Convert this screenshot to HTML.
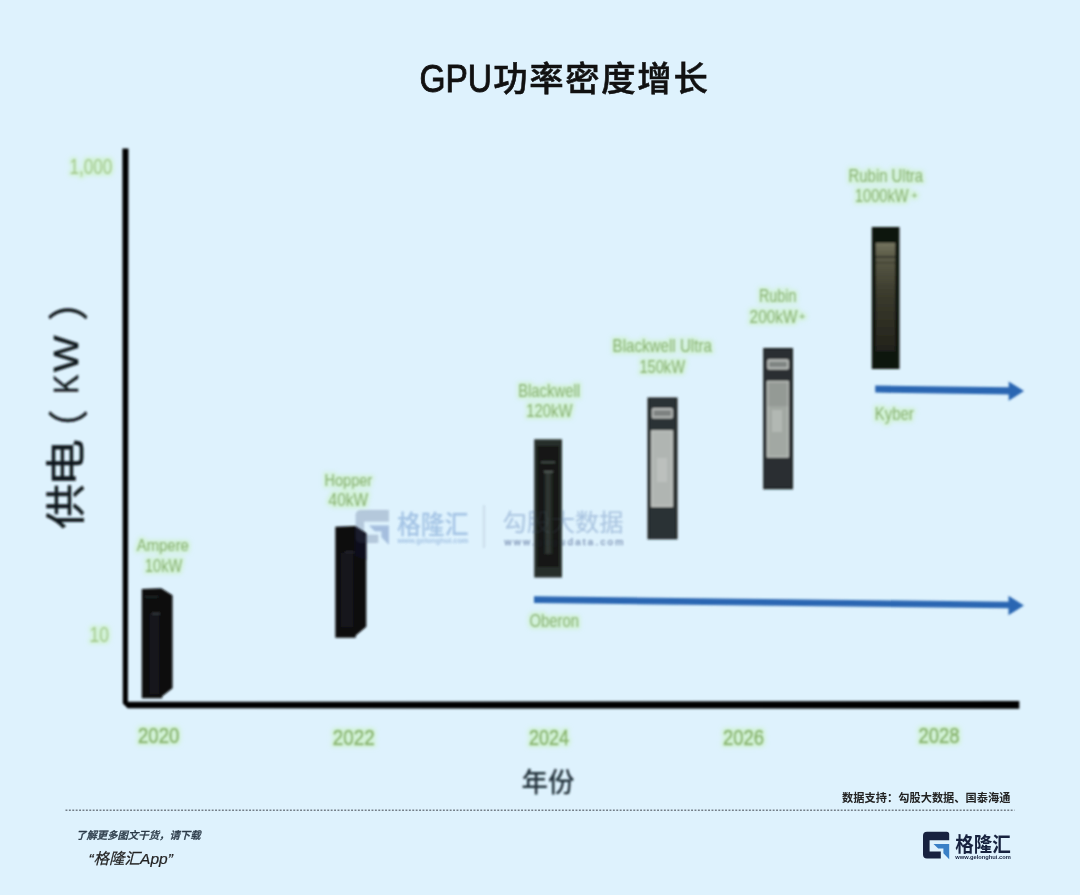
<!DOCTYPE html>
<html lang="zh-CN">
<head>
<meta charset="utf-8">
<title>GPU功率密度增长</title>
<style>
html,body{margin:0;padding:0;}
body{width:1080px;height:895px;background:#def2fd;overflow:hidden;position:relative;
  font-family:"Liberation Sans","Noto Sans CJK SC",sans-serif;}
svg{position:absolute;left:0;top:0;display:block;}
text{font-family:"Liberation Sans","Noto Sans CJK SC",sans-serif;}
.g{fill:#88b170;stroke:#88b170;stroke-width:0.15px;font-size:19px;}
.ax{fill:#88b46c;stroke:#88b46c;stroke-width:0.6px;font-size:22px;}
</style>
</head>
<body>
<svg width="1080" height="895" viewBox="0 0 1080 895">
<defs>
  <filter id="b" filterUnits="userSpaceOnUse" x="0" y="0" width="1080" height="895"><feGaussianBlur stdDeviation="0.9"/></filter>
  <filter id="b2" filterUnits="userSpaceOnUse" x="0" y="0" width="1080" height="895">
    <feMorphology in="SourceAlpha" operator="dilate" radius="2" result="d"/>
    <feGaussianBlur in="d" stdDeviation="2" result="db"/>
    <feFlood flood-color="#ccf2c4" flood-opacity="0.7"/>
    <feComposite in2="db" operator="in" result="halo"/>
    <feGaussianBlur in="SourceGraphic" stdDeviation="0.9" result="t"/>
    <feMerge><feMergeNode in="halo"/><feMergeNode in="t"/></feMerge>
  </filter>
  <linearGradient id="ru" x1="0" y1="0" x2="0" y2="1">
    <stop offset="0" stop-color="#74745f"/><stop offset="0.12" stop-color="#5c5c49"/><stop offset="0.45" stop-color="#3c3c2e"/><stop offset="1" stop-color="#22221a"/>
  </linearGradient>
  <linearGradient id="bw" x1="0" y1="0" x2="1" y2="0">
    <stop offset="0" stop-color="#1a1e1c"/><stop offset="0.5" stop-color="#343b37"/><stop offset="1" stop-color="#1a1e1c"/>
  </linearGradient>
</defs>
<rect x="0" y="0" width="1080" height="895" fill="#def2fd"/>

<!-- title -->
<text y="92" fill="#111" font-weight="500"><tspan x="419.5" font-size="38.5" font-weight="400" stroke="#111" stroke-width="0.9" textLength="72.5" lengthAdjust="spacingAndGlyphs">GPU</tspan><tspan x="493.2" y="90.7" font-size="34.4" stroke="#111" stroke-width="0.55" textLength="214.6" lengthAdjust="spacing">功率密度增长</tspan></text>

<!-- axes -->
<g filter="url(#b)">
<path d="M122.4,148.6 L128.5,148.6 L127.9,701.8 L1019.3,700.9 L1019.3,708.7 L127.6,708.2 L122.8,703.6 Z" fill="#030506"/>
</g>

<!-- y label -->
<g filter="url(#b)"><g transform="translate(80.4,528) rotate(-90)" fill="#10171b" stroke="#10171b" stroke-width="0.55">
<text font-size="40.2"><tspan x="-1.1" textLength="45.3" lengthAdjust="spacingAndGlyphs">供</tspan><tspan x="41.8" y="0" textLength="47.2" lengthAdjust="spacingAndGlyphs">电</tspan><tspan x="78" y="2.2" textLength="40.2" lengthAdjust="spacingAndGlyphs">（</tspan><tspan x="134" y="-2.2" font-size="35" textLength="19.3" lengthAdjust="spacingAndGlyphs">K</tspan><tspan x="156" y="-2.2" font-size="35" textLength="36.4" lengthAdjust="spacingAndGlyphs">W</tspan><tspan x="207.3" y="2.2" textLength="40.2" lengthAdjust="spacingAndGlyphs">）</tspan></text>
</g></g>

<!-- axis tick labels -->
<g class="ax" filter="url(#b2)">
<text fill="#a2c78a" stroke="none" x="69.4" y="174.4" textLength="43" lengthAdjust="spacingAndGlyphs">1,000</text>
<text fill="#a2c78a" stroke="none" x="89.4" y="641.9" textLength="19.5" lengthAdjust="spacingAndGlyphs">10</text>
<text x="138" y="742.9" textLength="41.3" lengthAdjust="spacingAndGlyphs">2020</text>
<text x="332.8" y="744.9" textLength="41.8" lengthAdjust="spacingAndGlyphs">2022</text>
<text x="528.9" y="744.7" textLength="40" lengthAdjust="spacingAndGlyphs">2024</text>
<text x="723" y="745.0" textLength="40.9" lengthAdjust="spacingAndGlyphs">2026</text>
<text x="918.5" y="743.1" textLength="40.9" lengthAdjust="spacingAndGlyphs">2028</text>
</g>

<!-- x label -->
<text x="521.6" y="792" font-size="27.3" font-weight="500" fill="#24313a" filter="url(#b)" textLength="53" lengthAdjust="spacingAndGlyphs">年份</text>

<!-- watermark -->
<g id="wm" opacity="0.55" filter="url(#b)">
  <g transform="translate(355.6,510) scale(1.27)" >
    <path d="M4,0 H26.2 V9 H6.6 V19.4 H17.8 V26 H4 A4,4 0 0 1 0,22 V4 A4,4 0 0 1 4,0 Z" fill="#98acc5"/>
    <path d="M10.5,12.2 H26.2 V27.4 L20.4,21.4 V16.8 H15.2 Z" fill="#809dca"/>
  </g>
  <text x="397" y="534.2" font-size="26.5" font-weight="500" fill="#7fa6d6" textLength="71.5" lengthAdjust="spacingAndGlyphs">格隆汇</text>
  <text x="397.4" y="543.2" font-size="6.5" font-weight="700" fill="#7fa6d6" textLength="71" lengthAdjust="spacingAndGlyphs">www.gelonghui.com</text>
  <rect x="483.4" y="504.9" width="1.1" height="43" fill="#aab8c8"/>
  <text x="502.6" y="530.5" font-size="24.2" font-weight="400" fill="#86a5cd" textLength="120.8" lengthAdjust="spacingAndGlyphs">勾股大数据</text>
  <text x="504.4" y="544.7" font-size="9.8" font-weight="400" fill="#3f5688" stroke="#3f5688" stroke-width="0.25" textLength="119" lengthAdjust="spacing">www.gogudata.com</text>
</g>

<!-- racks -->
<g filter="url(#b)">
  <!-- Ampere -->
  <polygon points="141.8,589 161.2,588.3 172.5,595.3 172.5,688.2 162.2,696.2 162.2,698.2 141.8,698.2" fill="#0a0b0d"/>
  <rect x="149.5" y="614" width="9.5" height="80" fill="#15181b"/>
  <rect x="145" y="596" width="13" height="1.6" fill="#22262a"/>
  <rect x="152" y="613" width="8" height="1.4" fill="#3a3f44"/>
  <!-- Hopper -->
  <polygon points="335.3,526.8 355,526 366.3,533.2 366.3,626.8 355.8,635.5 355.8,637.8 335.3,637.8" fill="#0a0b10"/>
  <polygon points="355,526 366.3,533.2 366.3,560 355,556" fill="#0c0e1d" opacity="0.8"/>
  <rect x="341" y="553" width="12" height="74" fill="#13161a"/>
  <rect x="345" y="551.5" width="9" height="1.3" fill="#30343a"/>
  <!-- Blackwell -->
  <rect x="534.2" y="439.3" width="27.8" height="138.2" fill="#272d2a"/>
  <rect x="537.2" y="446" width="21.8" height="121" fill="#141716"/>
  <rect x="543.5" y="471" width="9.5" height="83" fill="url(#bw)"/>
  <rect x="541" y="461.5" width="14" height="1.5" fill="#4a524e"/>
  <rect x="544" y="471" width="9" height="1.5" fill="#59625d"/>
  <!-- Blackwell Ultra -->
  <rect x="647.5" y="397.5" width="30" height="141.8" fill="#1e2224"/>
  <rect x="649.3" y="399" width="26.4" height="139" fill="#2c3234"/>
  <rect x="651.8" y="407.9" width="21.1" height="10.7" rx="1.5" fill="#b4b8b6"/>
  <rect x="653.6" y="410.2" width="17.5" height="6" fill="#7d8180"/>
  <rect x="651.1" y="430.2" width="21.8" height="76.9" fill="#c2c6c3"/>
  <rect x="652.6" y="431.7" width="18.8" height="73.9" fill="#b0b5b2"/>
  <rect x="657" y="458" width="10" height="24" fill="#bcc0bd"/>
  <!-- Rubin -->
  <rect x="763.2" y="348" width="29.8" height="141.3" fill="#1c2022"/>
  <rect x="765" y="349.5" width="26.2" height="138.3" fill="#292e30"/>
  <rect x="767.3" y="359.3" width="21.5" height="10.2" rx="1.5" fill="#b9bdba"/>
  <rect x="769.1" y="361.5" width="17.9" height="5.8" fill="#7f8482"/>
  <rect x="766.8" y="380.8" width="22" height="76.8" fill="#bfc4c0"/>
  <rect x="768.3" y="382.3" width="19" height="73.8" fill="#a2a8a3"/>
  <rect x="768.3" y="382.3" width="19" height="24" fill="#949a95"/>
  <rect x="772" y="410" width="10" height="22" fill="#b2b8b3"/>
  <!-- Rubin Ultra -->
  <rect x="871.8" y="227" width="27.7" height="142" fill="#11120f"/>
  <rect x="875.8" y="242.7" width="19.4" height="108.7" fill="url(#ru)"/>
  <rect x="875.8" y="256" width="19.4" height="1.6" fill="#33332a"/>
  <rect x="875.8" y="262" width="19.4" height="1.2" fill="#3a3a2e"/>
</g>

<use href="#wm" opacity="0.18"/>

<!-- arrows -->
<g fill="#2c66b2" filter="url(#b)">
  <polygon points="534,596.3 1010,601.7 1010,608.2 534,603.1"/>
  <polygon points="1008.5,595.8 1023.9,605.6 1008.5,615.2"/>
  <polygon points="875.2,385.5 1010,387.3 1010,394.5 875.2,392.6"/>
  <polygon points="1008.7,381.5 1024.1,391.1 1008.7,400.7"/>
</g>

<!-- data labels -->
<g class="g" filter="url(#b2)">
<text font-size="16.8" x="136.7" y="551.3" textLength="52.2" lengthAdjust="spacingAndGlyphs">Ampere</text>
<text x="145" y="571.7" textLength="37.2" lengthAdjust="spacingAndGlyphs">10kW</text>
<text font-size="17.2" x="324.4" y="485.5" textLength="47.8" lengthAdjust="spacingAndGlyphs">Hopper</text>
<text x="328.6" y="506.3" textLength="39.4" lengthAdjust="spacingAndGlyphs">40kW</text>
<text font-size="17.8" x="518.2" y="397.2" textLength="61.8" lengthAdjust="spacingAndGlyphs">Blackwell</text>
<text x="526.3" y="417.4" textLength="46.1" lengthAdjust="spacingAndGlyphs">120kW</text>
<text font-size="17.8" x="612.6" y="352.4" textLength="99.3" lengthAdjust="spacingAndGlyphs">Blackwell Ultra</text>
<text x="639.4" y="372.5" textLength="45.6" lengthAdjust="spacingAndGlyphs">150kW</text>
<text font-size="17.8" x="759" y="302.4" textLength="37.4" lengthAdjust="spacingAndGlyphs">Rubin</text>
<text><tspan x="749.6" y="323.4" textLength="47.8" lengthAdjust="spacingAndGlyphs">200kW</tspan><tspan x="799.2" y="319.6" font-size="10">+</tspan></text>
<text font-size="17.8" x="848.6" y="182.2" textLength="74.4" lengthAdjust="spacingAndGlyphs">Rubin Ultra</text>
<text><tspan x="854.9" y="202.3" textLength="53.6" lengthAdjust="spacingAndGlyphs">1000kW</tspan><tspan x="911.4" y="199.2" font-size="10">+</tspan></text>
<text font-size="18.7" x="529.4" y="626.9" textLength="49.6" lengthAdjust="spacingAndGlyphs">Oberon</text>
<text font-size="17.8" x="874.8" y="420.3" textLength="39" lengthAdjust="spacingAndGlyphs">Kyber</text>
</g>

<!-- footer -->
<line x1="65.5" y1="810.3" x2="1014.5" y2="810.3" stroke="#737e87" stroke-width="1.4" stroke-dasharray="1.9 1.5"/>
<text x="842" y="802.3" font-size="11.2" font-weight="700" fill="#222" textLength="168.5" lengthAdjust="spacing">数据支持：勾股大数据、国泰海通</text>
<text x="76" y="838.7" font-size="10.38" font-weight="500" font-style="italic" fill="#2b3a48" stroke="#2b3a48" stroke-width="0.3">了解更多图文干货，请下载</text>
<text x="88.4" y="863.6" font-size="15.5" font-weight="400" font-style="italic" fill="#222" stroke="#222" stroke-width="0.2">“格隆汇App”</text>

<!-- logo -->
<g transform="translate(923,831.8)">
  <path d="M4,0 H23.7 A2.5,2.5 0 0 1 26.2,2.5 V8.4 H6.6 V19.8 H17.8 V26.7 H4 A4,4 0 0 1 0,22.7 V4 A4,4 0 0 1 4,0 Z" fill="#17223f"/>
  <path d="M10.5,12.2 H26.2 V27.4 L20.4,21.4 V16.8 H15.2 Z" fill="#3a80c6"/>
</g>
<text x="955.3" y="851.9" font-size="20.6" font-weight="700" fill="#17223f" textLength="55.5" lengthAdjust="spacingAndGlyphs">格隆汇</text>
<text x="955.3" y="859" font-size="5.6" font-weight="700" fill="#17223f" textLength="55.5" lengthAdjust="spacingAndGlyphs">www.gelonghui.com</text>
</svg>
</body>
</html>
